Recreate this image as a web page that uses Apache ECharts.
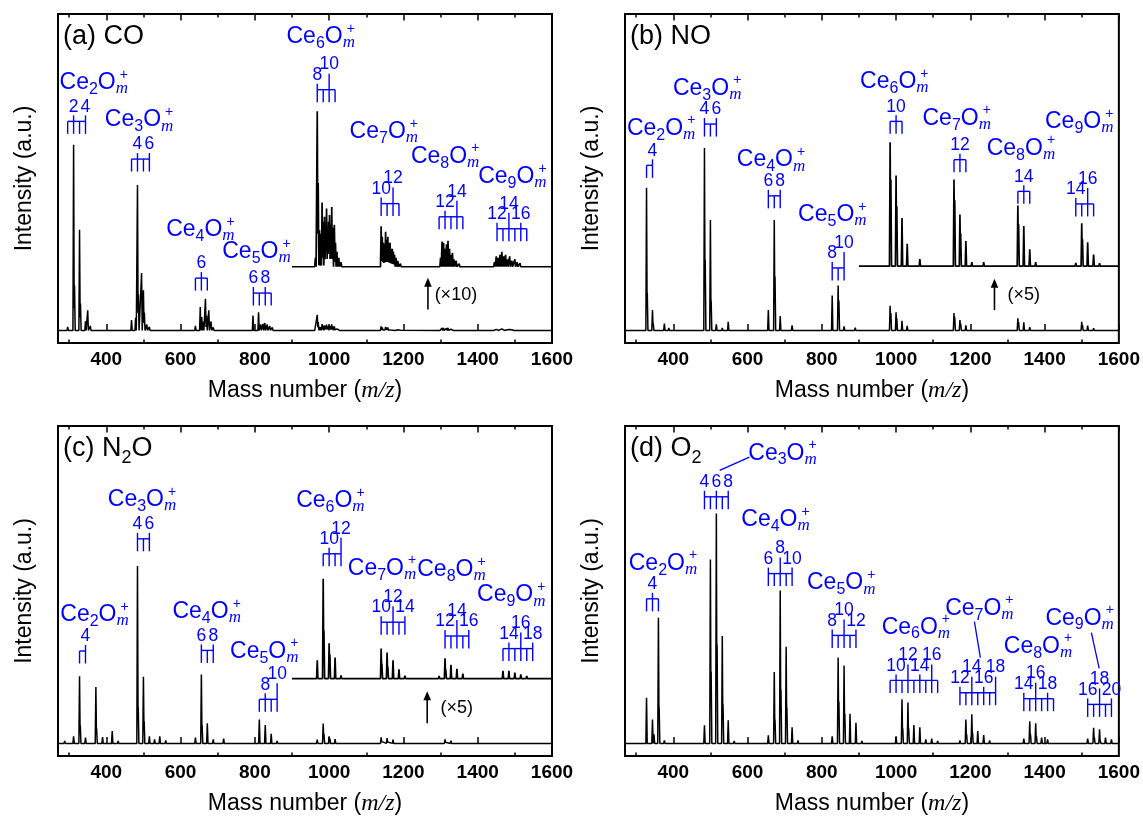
<!DOCTYPE html>
<html>
<head>
<meta charset="utf-8">
<script src="https://cdn.jsdelivr.net/npm/echarts@6/dist/echarts.min.js"></script>
<style>
  html, body { margin: 0; padding: 0; background: #fff; }
  #chart { width: 1143px; height: 819px; }
</style>
</head>
<body>
<div id="chart"></div>
<script>
// ---------------- axis values ----------------
const X_MIN = 270, X_MAX = 1600;
const Y_MIN = -4.2, Y_MAX = 105.8;
const majorTicks = [400, 600, 800, 1000, 1200, 1400, 1600];
const minorTicks = [300, 500, 700, 900, 1100, 1300, 1500];
const CE_MASS = 140, O_MASS = 16;

// ---------------- spectra: [m/z, intensity (a.u.)] ----------------
// (a) CO : light clusters
const coPeaks = [
  [296, 1.2], [312, 62.1], [314.5, 15.0], [328, 33.7], [330.5, 9.0], [344, 3.1], [350, 6.7], [357, 1.5],
  [468, 3.5], [479, 4.2], [484, 48.6], [486.5, 12.0], [495, 19.2], [500, 13.4], [502.5, 6.0], [509, 2.0], [516, 1.2],
  [640, 1.5], [653, 7.8], [657, 4.5], [661, 3.0], [667, 10.6], [670, 5.0], [676, 6.7], [682, 3.0], [688, 1.0],
  [795, 5.0], [810, 6.1], [816, 2.0], [822, 2.2], [827, 2.5], [833, 2.0], [840, 1.5], [847, 1.0]
];
// (a) CO : heavy clusters (also shown magnified x10)
const coHeavy = [
  [963, 0.30], [968, 5.20], [970.5, 2.80], [974, 1.23], [977.5, 1.10], [981, 2.15], [984, 1.50], [987.5, 1.67],
  [990.5, 1.40], [993, 1.95], [996, 1.30], [998.5, 1.50], [1001, 1.73], [1004, 1.40], [1007, 2.00], [1010, 1.30],
  [1014, 1.40], [1017, 0.80], [1021, 0.50], [1026, 0.30], [1032, 0.15],
  [1140, 1.35], [1143, 1.00], [1146, 0.80], [1149, 0.75], [1152, 1.17], [1155, 0.90], [1158, 1.00], [1161, 0.80],
  [1164, 0.80], [1167, 0.60], [1170, 0.60], [1173, 0.50], [1176, 0.40], [1180, 0.30], [1185, 0.20], [1192, 0.10],
  [1300, 0.30], [1304, 0.84], [1308, 0.80], [1312, 0.60], [1316, 0.75], [1320, 0.87], [1324, 0.60], [1328, 0.40],
  [1332, 0.47], [1336, 0.25], [1342, 0.20], [1350, 0.10],
  [1445, 0.15], [1450, 0.35], [1455, 0.30], [1460, 0.40], [1465, 0.50], [1470, 0.35], [1475, 0.40], [1480, 0.25],
  [1486, 0.35], [1492, 0.20], [1500, 0.25], [1506, 0.15], [1514, 0.12]
];

// (b) NO
const noPeaks = [
  [328, 47.7], [330, 12.6], [344, 6.8], [346, 2.5], [376, 2.3], [388, 0.8],
  [484, 61.0], [486, 23.7], [500, 36.9], [502, 10.0], [516, 2.0], [532, 0.8], [548, 2.9],
  [656, 6.8], [672, 36.9], [674, 18.0], [688, 4.8], [720, 1.7],
  [828, 11.7], [844, 15.0], [846, 10.0], [860, 1.4], [890, 0.9]
];
const noHeavy = [
  [984, 8.28], [986, 5.80], [1000, 6.06], [1002, 4.00], [1016, 3.22], [1030, 1.50], [1064, 0.48],
  [1156, 5.80], [1158, 4.40], [1172, 3.46], [1174, 2.20], [1188, 1.68], [1204, 0.26], [1236, 0.26],
  [1328, 4.06], [1330, 2.80], [1344, 2.68], [1360, 1.12], [1376, 0.26],
  [1484, 0.22], [1500, 2.86], [1502, 1.80], [1516, 1.60], [1532, 0.78], [1548, 0.20]
];

// (c) N2O
const n2oPeaks = [
  [288, 0.8], [312, 2.4], [328, 22.4], [330, 6.0], [344, 1.9], [372, 18.8], [374, 5.0], [390, 2.1], [416, 4.1], [432, 0.8],
  [484, 59.1], [486, 12.0], [500, 22.2], [502, 7.4], [516, 2.4], [530, 1.3], [544, 2.4], [560, 1.0],
  [640, 1.9], [656, 23.0], [658, 6.0], [672, 6.7], [688, 1.3], [716, 1.6],
  [812, 8.0], [828, 6.1], [844, 3.2], [860, 0.8]
];
const n2oHeavy = [
  [968, 1.22], [984, 6.66], [986, 3.20], [1000, 2.36], [1002, 1.60], [1016, 1.40], [1032, 0.22],
  [1140, 2.00], [1142, 1.00], [1156, 1.74], [1158, 0.80], [1172, 1.22], [1188, 0.62], [1204, 0.20],
  [1296, 0.18], [1312, 1.36], [1314, 0.60], [1328, 0.92], [1344, 0.66], [1360, 0.34],
  [1468, 0.52], [1484, 0.52], [1500, 0.40], [1516, 0.28], [1532, 0.18]
];

// (d) O2
const o2Peaks = [
  [328, 15.2], [344, 8.0], [348, 3.0], [360, 41.9], [362, 12.0], [376, 1.0],
  [484, 6.0], [500, 61.3], [502, 24.0], [516, 76.6], [518, 33.0], [532, 35.8], [534, 13.0], [548, 7.7], [564, 0.8],
  [656, 2.7], [672, 23.8], [674, 8.0], [688, 51.0], [690, 18.0], [704, 32.2], [706, 12.0], [720, 5.4], [736, 1.0],
  [828, 2.4], [844, 28.6], [846, 14.0], [860, 26.0], [862, 10.0], [876, 9.9], [892, 6.9], [908, 0.8],
  [1000, 2.4], [1016, 14.7], [1018, 5.0], [1032, 13.6], [1034, 5.0], [1048, 6.1], [1064, 5.4], [1080, 1.3], [1096, 1.6], [1112, 0.8],
  [1172, 1.0], [1188, 8.0], [1190, 3.0], [1204, 9.7], [1206, 3.5], [1220, 4.1], [1236, 2.8], [1252, 1.0], [1268, 0.5],
  [1344, 1.6], [1360, 7.4], [1362, 3.0], [1376, 6.7], [1378, 2.5], [1392, 1.9], [1408, 1.3], [1424, 0.6],
  [1516, 1.6], [1532, 5.2], [1534, 2.0], [1548, 4.7], [1550, 1.8], [1564, 1.9], [1580, 1.3]
];

// ---------------- cluster assignments ----------------
// labels: [n of Ce_nO_m+, m/z of label centre, intensity at text baseline]
// combs:  [n, first m, last m, intensity of the comb bar, m labelled on the bar, m labelled on a raised stem]
const coLabels = [[2, 369, 80.2], [3, 491, 67.7], [4, 656, 31.0], [5, 807, 23.6], [6, 980, 95.5], [7, 1150, 63.8], [8, 1315, 55.5], [9, 1496, 48.8]];
const coCombs = [
  [2, 1, 4, 69.9, [2, 4], []], [3, 3, 6, 57.3, [4, 6], []], [4, 5, 7, 17.5, [6], []], [5, 6, 9, 12.5, [6, 8], []],
  [6, 8, 11, 80.5, [8], [10]], [7, 10, 13, 42.4, [10], [12]], [8, 11, 15, 38.0, [12], [14]], [9, 12, 17, 34.0, [12, 16], [14]]
];
const noLabels = [[2, 370, 64.9], [3, 494, 78.3], [4, 666, 54.3], [5, 831, 36.0], [6, 998, 80.5], [7, 1166, 68.3], [8, 1339, 58.2], [9, 1496, 67.1]];
const noCombs = [
  [2, 3, 4, 55.2, [4], []], [3, 4, 6, 69.0, [4, 6], []], [4, 6, 8, 45.0, [6, 8], []], [5, 8, 10, 20.9, [8], [10]],
  [6, 9, 11, 69.9, [10], []], [7, 11, 13, 57.1, [12], []], [8, 13, 15, 46.5, [14], []], [9, 14, 17, 42.3, [14], [16]]
];
const n2oLabels = [[2, 371, 40.2], [3, 499, 78.6], [4, 673, 41.3], [5, 828, 28.0], [6, 1006, 78.3], [7, 1145, 55.7], [8, 1332, 55.2], [9, 1493, 46.8]];
const n2oCombs = [
  [2, 3, 4, 30.8, [4], []], [3, 4, 6, 68.2, [4, 6], []], [4, 6, 8, 31.0, [6, 8], []], [5, 7, 10, 14.7, [8], [10]],
  [6, 9, 12, 63.2, [10], [12]], [7, 10, 14, 40.4, [10, 14], [12]], [8, 12, 16, 35.8, [12, 16], [14]], [9, 13, 18, 31.6, [14, 18], [16]]
];
const o2Labels = [[2, 375, 57.4], [3, 697, 94.1], [4, 678, 71.9], [5, 855, 50.8], [6, 1056, 36.1], [7, 1227, 42.4], [8, 1385, 29.7], [9, 1497, 39.1]];
const o2Combs = [
  [2, 3, 5, 48.2, [4], []], [3, 4, 8, 82.2, [4, 6, 8], []], [4, 6, 10, 56.6, [6, 10], [8]], [5, 8, 12, 36.0, [8, 12], [10]],
  [6, 9, 17, 21.0, [10, 14], [12, 16]], [7, 12, 18, 16.9, [12, 16], [14, 18]], [8, 14, 19, 14.9, [14, 18], [16]], [9, 16, 20, 13.0, [16, 20], [18]]
];
// leader lines from a label to its comb: [m/z 1, I 1, m/z 2, I 2]
const o2Leaders = [[525, 91.0, 605, 95.4], [1211, 40.6, 1227, 28.6], [1526, 36.9, 1547, 25.0]];

// ---------------- styling ----------------
const SANS = '"Liberation Sans", Arial, Helvetica, sans-serif';
const SERIF = '"Liberation Serif", "Times New Roman", serif';
const BLUE = '#0000ff';
const PEAK_HW = 1.8;   // half width of a drawn peak, m/z units
const DIGIT = 17.5;    // comb label size

const panels = [
  { grid: { left: 58, top: 14, width: 494, height: 329 },
    title: [['(a) CO', 0]], peaks: coPeaks, heavy: coHeavy, mag: 10, insetBase: 21.3,
    arrow: [1266, 7.0, 17.6], note: ['(\u00d710)', 1284, 12.0], labels: coLabels, combs: coCombs, leaders: [] },
  { grid: { left: 625, top: 14, width: 494, height: 329 },
    title: [['(b) NO', 0]], peaks: noPeaks, heavy: noHeavy, mag: 5, insetBase: 21.5,
    arrow: [1265, 6.8, 17.3], note: ['(\u00d75)', 1300, 12.0], labels: noLabels, combs: noCombs, leaders: [] },
  { grid: { left: 58, top: 426, width: 494, height: 330 },
    title: [['(c) N', 0], ['2', 1], ['O', 0]], peaks: n2oPeaks, heavy: n2oHeavy, mag: 5, insetBase: 21.6,
    arrow: [1264, 6.7, 17.4], note: ['(\u00d75)', 1300, 11.9], labels: n2oLabels, combs: n2oCombs, leaders: [] },
  { grid: { left: 625, top: 426, width: 494, height: 330 },
    title: [['(d) O', 0], ['2', 1]], peaks: o2Peaks, heavy: [], mag: 0, insetBase: 0,
    arrow: null, note: null, labels: o2Labels, combs: o2Combs, leaders: o2Leaders }
];

// ---------------- helpers ----------------
const measureCtx = document.createElement('canvas').getContext('2d');
function tw(s, font) { measureCtx.font = font; return measureCtx.measureText(s).width; }

function textEl(s, x, baseline, font, size, color, align) {
  return {
    type: 'text', silent: true,
    style: {
      text: s, x: x, y: baseline - 0.345 * size, font: font, fill: color,
      align: align, verticalAlign: 'middle', textAlign: align, textVerticalAlign: 'middle'
    }
  };
}

// peak list -> polyline of narrow triangular peaks on a baseline
function profile(peaks, scale, base, from, to) {
  const p = peaks.filter(d => d[0] >= from && d[0] <= to).sort((a, b) => a[0] - b[0]);
  const pts = [[from, base]];
  p.forEach((d, i) => {
    const m = d[0], h = d[1] * scale;
    if (i === 0 || p[i - 1][0] + PEAK_HW <= m - PEAK_HW) pts.push([m - PEAK_HW, base]);
    pts.push([m, base + h]);
    const q = p[i + 1];
    if (!q || m + PEAK_HW <= q[0] - PEAK_HW) {
      pts.push([m + PEAK_HW, base]);
    } else {
      const h2 = q[1] * scale;
      const x = (h * (PEAK_HW + m) - h2 * (PEAK_HW - q[0])) / (h + h2);
      const y = h * (1 - (x - m) / PEAK_HW);
      pts.push([x, base + Math.max(0, y)]);
    }
  });
  pts.push([to, base]);
  return pts;
}

function drawFormula(api, n, xm, yb) {
  const p = api.coord([xm, yb]);
  const fMain = '23px ' + SANS, fSub = '16px ' + SANS, fM = 'italic 17px ' + SERIF, fPlus = '14px ' + SANS;
  const wCe = tw('Ce', fMain), wN = tw(String(n), fSub), wO = tw('O', fMain), wM = tw('m', fM);
  const total = wCe + wN + wO + wM + 2;
  let x = p[0] - total / 2;
  const out = [];
  out.push(textEl('Ce', x, p[1], fMain, 23, BLUE, 'left')); x += wCe;
  out.push(textEl(String(n), x, p[1] + 4.5, fSub, 16, BLUE, 'left')); x += wN;
  out.push(textEl('O', x, p[1], fMain, 23, BLUE, 'left')); x += wO;
  out.push(textEl('m', x, p[1] + 4, fM, 17, BLUE, 'left'));
  out.push(textEl('+', x + wM / 2 + 2, p[1] - 11, fPlus, 14, BLUE, 'center'));
  return out;
}

function drawComb(api, c) {
  const n = c[0], m0 = c[1], m1 = c[2], yBar = c[3], low = c[4], high = c[5];
  const y = api.coord([X_MIN, yBar])[1];
  const xs = m => api.coord([CE_MASS * n + O_MASS * m, yBar])[0];
  const ls = { stroke: BLUE, lineWidth: 1.4 };
  const out = [{ type: 'line', silent: true, shape: { x1: xs(m0), y1: y, x2: xs(m1), y2: y }, style: ls }];
  for (let m = m0; m <= m1; m++) {
    const hi = high.indexOf(m) >= 0, lo = low.indexOf(m) >= 0;
    const top = y - (hi ? 16 : lo ? 6 : 0);
    out.push({ type: 'line', silent: true, shape: { x1: xs(m), y1: top, x2: xs(m), y2: y + 12.5 }, style: ls });
    if (hi || lo) out.push(textEl(String(m), xs(m), y - (hi ? 19 : 8.5), DIGIT + 'px ' + SANS, DIGIT, BLUE, 'center'));
  }
  return out;
}

function drawArrow(api, a) {
  const p0 = api.coord([a[0], a[1]]), p1 = api.coord([a[0], a[2]]);
  return [
    { type: 'line', silent: true, shape: { x1: p0[0], y1: p0[1], x2: p1[0], y2: p1[1] + 6 }, style: { stroke: '#000', lineWidth: 1.6 } },
    { type: 'polygon', silent: true, shape: { points: [[p1[0], p1[1]], [p1[0] - 3.8, p1[1] + 9], [p1[0] + 3.8, p1[1] + 9]] }, style: { fill: '#000' } }
  ];
}

function drawItem(api, it) {
  if (it.k === 'f') return drawFormula(api, it.v[0], it.v[1], it.v[2]);
  if (it.k === 'c') return drawComb(api, it.v);
  if (it.k === 'a') return drawArrow(api, it.v);
  if (it.k === 't') {
    const p = api.coord([it.v[1], it.v[2]]);
    return [textEl(it.v[0], p[0], p[1] + 0.36 * 18, '18px ' + SANS, 18, '#000', 'left')];
  }
  if (it.k === 'l') {
    const p0 = api.coord([it.v[0], it.v[1]]), p1 = api.coord([it.v[2], it.v[3]]);
    return [{ type: 'line', silent: true, shape: { x1: p0[0], y1: p0[1], x2: p1[0], y2: p1[1] }, style: { stroke: BLUE, lineWidth: 1.3 } }];
  }
  return [];
}

// ---------------- option ----------------
const grids = [], xAxes = [], yAxes = [], series = [], graphics = [];
const tickStyle = { color: '#000', width: 1.5 };

panels.forEach((pn, gi) => {
  grids.push(Object.assign({ show: true, borderColor: '#000', borderWidth: 2, backgroundColor: 'transparent', containLabel: false }, pn.grid));

  const baseAxis = { gridIndex: gi, type: 'value', min: X_MIN, max: X_MAX, axisLine: { show: false }, splitLine: { show: false } };
  xAxes.push(Object.assign({}, baseAxis, {
    position: 'bottom',
    axisTick: { show: true, inside: true, length: 6.5, customValues: majorTicks, lineStyle: tickStyle },
    axisLabel: {
      show: true, customValues: majorTicks, margin: 7,
      formatter: v => '{b|' + String(v) + '}',
      rich: { b: { color: '#000', fontFamily: SANS, fontSize: 19, fontWeight: 700 } }
    },
    name: 'Mass number ({i|m/z})', nameLocation: 'middle', nameGap: 36,
    nameTextStyle: { color: '#000', fontFamily: SANS, fontSize: 23, rich: { i: { fontFamily: SERIF, fontStyle: 'italic', fontSize: 24, color: '#000' } } }
  }));
  xAxes.push(Object.assign({}, baseAxis, {
    position: 'bottom', axisTick: { show: true, inside: true, length: 3.5, customValues: minorTicks, lineStyle: tickStyle }, axisLabel: { show: false }
  }));
  xAxes.push(Object.assign({}, baseAxis, {
    position: 'top', axisTick: { show: true, inside: true, length: 6.5, customValues: majorTicks, lineStyle: tickStyle }, axisLabel: { show: false }
  }));
  xAxes.push(Object.assign({}, baseAxis, {
    position: 'top', axisTick: { show: true, inside: true, length: 3.5, customValues: minorTicks, lineStyle: tickStyle }, axisLabel: { show: false }
  }));
  yAxes.push({
    gridIndex: gi, type: 'value', min: Y_MIN, max: Y_MAX,
    axisLine: { show: false }, axisTick: { show: false }, axisLabel: { show: false }, splitLine: { show: false },
    name: 'Intensity (a.u.)', nameLocation: 'middle', nameGap: 22,
    nameTextStyle: { color: '#000', fontFamily: SANS, fontSize: 23 }
  });

  const xi = gi * 4;
  const allPeaks = pn.peaks.concat(pn.heavy);
  series.push({
    type: 'line', xAxisIndex: xi, yAxisIndex: gi, data: profile(allPeaks, 1, 0, X_MIN, X_MAX),
    showSymbol: false, symbol: 'none', silent: true, animation: false,
    lineStyle: { color: '#000', width: 1.5 }
  });
  if (pn.mag) {
    series.push({
      type: 'line', xAxisIndex: xi, yAxisIndex: gi, data: profile(pn.heavy, pn.mag, pn.insetBase, 900, X_MAX),
      showSymbol: false, symbol: 'none', silent: true, animation: false,
      lineStyle: { color: '#000', width: 1.7 }
    });
  }

  const items = [];
  pn.labels.forEach(v => items.push({ k: 'f', v: v, at: [v[1], v[2]] }));
  pn.combs.forEach(v => items.push({ k: 'c', v: v, at: [CE_MASS * v[0] + O_MASS * v[1], v[3]] }));
  pn.leaders.forEach(v => items.push({ k: 'l', v: v, at: [v[0], v[1]] }));
  if (pn.arrow) items.push({ k: 'a', v: pn.arrow, at: [pn.arrow[0], pn.arrow[1]] });
  if (pn.note) items.push({ k: 't', v: pn.note, at: [pn.note[1], pn.note[2]] });
  series.push({
    type: 'custom', xAxisIndex: xi, yAxisIndex: gi, silent: true, animation: false, z: 5,
    encode: { x: 0, y: 1 },
    data: items.map(it => it.at),
    renderItem: (params, api) => ({ type: 'group', children: drawItem(api, items[params.dataIndex]) })
  });

  // panel title, with subscripts
  let tx = pn.grid.left + 5;
  const tb = pn.grid.top + 32;
  pn.title.forEach(part => {
    const sub = part[1] === 1;
    const size = sub ? 18 : 27;
    const font = size + 'px ' + SANS;
    graphics.push(textEl(part[0], tx, tb + (sub ? 6 : 0), font, size, '#000', 'left'));
    tx += tw(part[0], font);
  });
});

const chart = echarts.init(document.getElementById('chart'), null, { renderer: 'canvas' });
chart.setOption({
  animation: false,
  backgroundColor: '#fff',
  textStyle: { fontFamily: SANS },
  grid: grids,
  xAxis: xAxes,
  yAxis: yAxes,
  series: series,
  graphic: { elements: graphics }
});
</script>
</body>
</html>
